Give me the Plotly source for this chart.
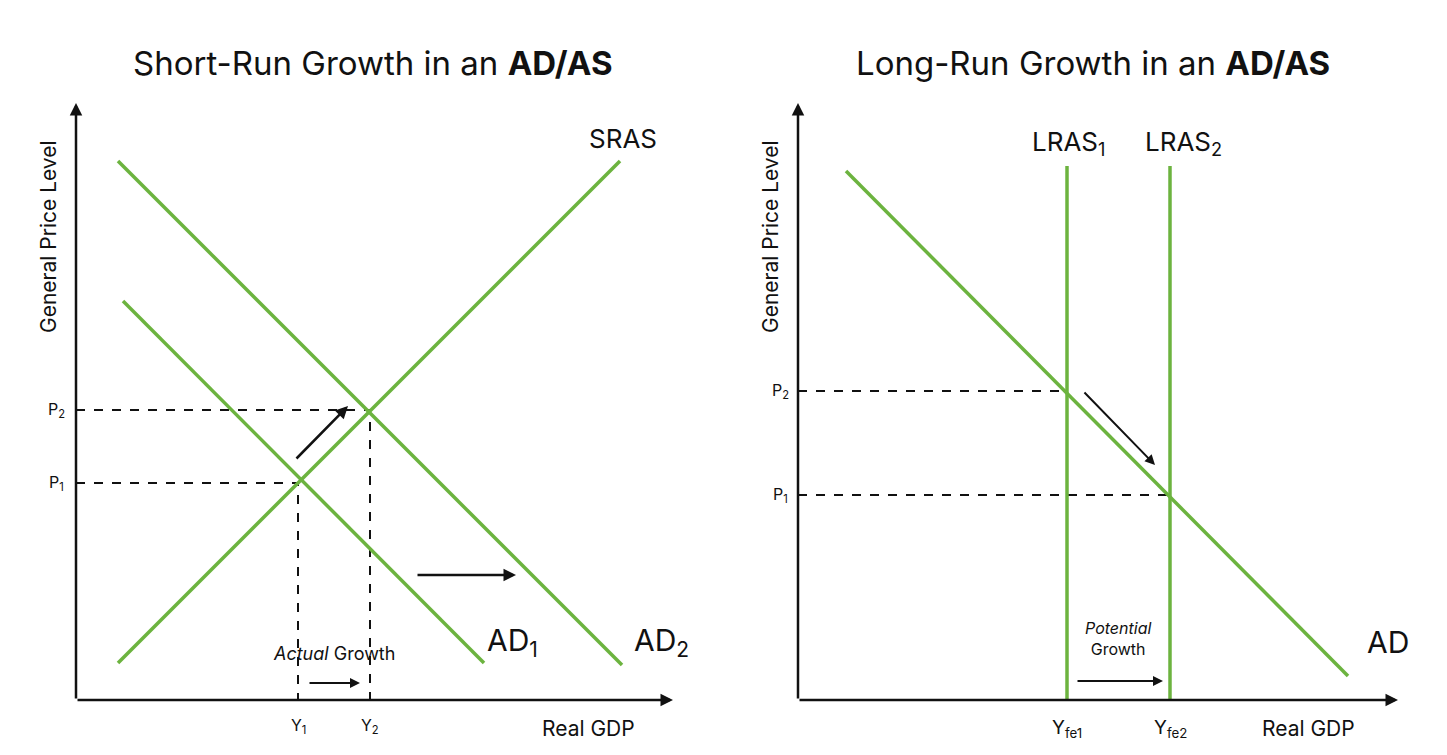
import plotly.graph_objects as go

W, H = 1447, 755
GREEN = "#6cb33f"

# left panel (units: offset from origin)
sras_x = [42, 544]; sras_y = [37, 539]
ad1_x = [47, 408]; ad1_y = [399, 37]
ad2_x = [42, 546]; ad2_y = [539, 35]
p_left = [217, 290]   # P1, P2
y_left = [222, 294]   # Y1, Y2

# right panel
ad_x = [48, 550]; ad_y = [529, 24]
lras = [269, 372]
lras_top = 534
p_right = [205, 309]

fig = go.Figure()
ay = dict(range=[-63, 692], visible=False, fixedrange=True, domain=[0, 1])
fig.update_layout(
    width=W, height=H, margin=dict(l=0, r=0, t=0, b=0),
    paper_bgcolor="white", plot_bgcolor="white", showlegend=False,
    font=dict(family="Inter, Roboto, sans-serif", color="#111"),
    xaxis=dict(range=[-68, W / 2 - 68], domain=[0, 0.5], visible=False, fixedrange=True),
    yaxis=ay,
    xaxis2=dict(range=[W / 2 - 790, W - 790], domain=[0.5, 1], visible=False, fixedrange=True),
    yaxis2=dict(ay, anchor="x2"),
)

def line(x, y, xa="x", ya="y", dash=None, color=GREEN, width=3.5):
    fig.add_trace(go.Scatter(x=x, y=y, mode="lines", xaxis=xa, yaxis=ya, hoverinfo="skip",
                             line=dict(color=color, width=width, dash=dash)))

def dashed(px_, py_, xa="x", ya="y"):
    line([0, px_, px_], [py_, py_, 0], xa, ya, dash="dash", color="#111", width=2)

def arrow(x0, y0, x1, y1, xa="x", ya="y", w=2.5, head=2):
    fig.add_annotation(x=x1, y=y1, ax=x0, ay=y0, xref=xa, yref=ya, axref=xa, ayref=ya,
                       showarrow=True, arrowhead=head, arrowsize=1, arrowwidth=w,
                       arrowcolor="#111", text="")

def text(x, y, t, size=22, xa="x", ya="y", angle=0, anchor="center"):
    fig.add_annotation(x=x, y=y, xref=xa, yref=ya, text=t, showarrow=False,
                       font=dict(size=size), textangle=angle, xanchor=anchor)

# left
for i in range(2):
    dashed(y_left[i], p_left[i])
line(sras_x, sras_y); line(ad1_x, ad1_y); line(ad2_x, ad2_y)
arrow(0, 0, 0, 597); arrow(0, 0, 597, 0)
arrow(219, 240, 272, 294); arrow(340, 125, 440, 125); arrow(232, 17, 284, 17, w=2)
text(-28, 463, "General Price Level", 21, angle=-90)
text(547, 562, "SRAS", 26)
text(436, 58, "AD<sub>1</sub>", 30)
text(585, 58, "AD<sub>2</sub>", 30)
text(258, 47, "<i>Actual</i> Growth", 18)
text(512, -28, "Real GDP", 21)
text(222, -26, "Y<sub>1</sub>", 16); text(294, -26, "Y<sub>2</sub>", 16)
text(-20, p_left[0], "P<sub>1</sub>", 16); text(-20, p_left[1], "P<sub>2</sub>", 16)
text(297, 637, "Short-Run Growth in an <b>AD/AS</b>", 33)

# right
for i in range(2):
    dashed(lras[1 - i], p_right[i], "x2", "y2")
line(ad_x, ad_y, "x2", "y2")
for lx in lras:
    line([lx, lx], [0, lras_top], "x2", "y2")
arrow(0, 0, 0, 597, "x2", "y2"); arrow(0, 0, 600, 0, "x2", "y2")
arrow(285, 309, 357, 235, "x2", "y2", w=2); arrow(278, 19, 365, 19, "x2", "y2", w=2)
text(-28, 463, "General Price Level", 21, "x2", "y2", angle=-90)
text(270, 557, "LRAS<sub>1</sub>", 26, "x2", "y2")
text(385, 557, "LRAS<sub>2</sub>", 26, "x2", "y2")
text(590, 58, "AD", 30, "x2", "y2")
text(320, 62, "<i>Potential</i><br>Growth", 16, "x2", "y2")
text(510, -28, "Real GDP", 21, "x2", "y2")
text(269, -28, "Y<sub>fe1</sub>", 19, "x2", "y2"); text(372, -28, "Y<sub>fe2</sub>", 19, "x2", "y2")
text(-18, p_right[0], "P<sub>1</sub>", 16, "x2", "y2"); text(-18, p_right[1], "P<sub>2</sub>", 16, "x2", "y2")
text(295, 637, "Long-Run Growth in an <b>AD/AS</b>", 33, "x2", "y2")

fig.write_html("out.html")
